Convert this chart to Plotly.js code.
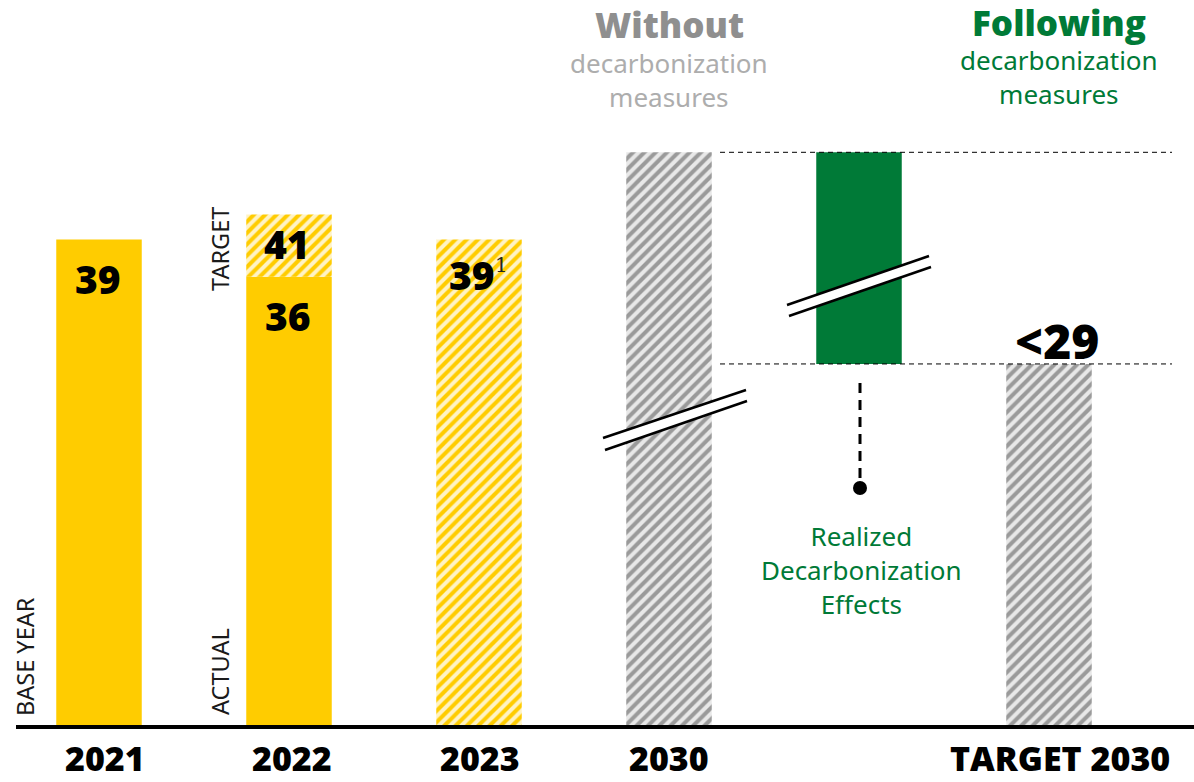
<!DOCTYPE html>
<html>
<head>
<meta charset="utf-8">
<script src="https://cdn.plot.ly/plotly-3.0.1.min.js"></script>
<style>html,body{margin:0;padding:0;background:#fff;}#chart{width:1194px;height:782px;}</style>
</head>
<body>
<div id="chart"></div>
<script>
// ---- data ----
var categories = ["2021", "2022", "2023", "2030", "", "TARGET 2030"];
var categoryX = [0, 1, 2, 3, 4, 5];
var actualX = [0, 1];
var actualValues = [39, 36];
var targetX = [1, 2];
var targetBase = [36, 0];
var targetValues = [41, 39];
var projectionX = [3, 5];
var projectionValues = [46, 29];
var effectX = [4];
var effectFrom = [29];
var effectTo = [46];
var valueLabels = ["39", "36", "41", "39", "<29"];

// ---- geometry helpers (pixel -> axis) ----
var W = 1194, H = 782, ML = 16, MB = 57, PLOT_H = H - MB;
var PX_PER_X = 190, X0_PX = 99;
var PX_PER_Y = 12.45;
function dx(px) { return (px - X0_PX) / PX_PER_X; }
function dy(py) { return (PLOT_H - py) / PX_PER_Y; }
function py2paper(py) { return (PLOT_H - py) / PLOT_H; }

var YEL = "#FFCC00", GREEN = "#007A37";
var BW = 0.45;

var traces = [
  { type: "bar", x: actualX, y: actualValues, width: BW,
    marker: { color: YEL, line: { width: 0 } }, hoverinfo: "skip" },
  { type: "bar", x: targetX, base: targetBase,
    y: targetValues.map(function (v, i) { return v - targetBase[i]; }), width: BW,
    marker: { color: "#FFF3C4", line: { width: 0 },
      pattern: { shape: "/", fgcolor: YEL, bgcolor: "#FFF3C4", size: 8, solidity: 0.5, fillmode: "replace" } },
    hoverinfo: "skip" },
  { type: "bar", x: projectionX, y: projectionValues, width: BW,
    marker: { color: "#E8E8E8", line: { width: 0 },
      pattern: { shape: "/", fgcolor: "#9A9A9A", bgcolor: "#E8E8E8", size: 8, solidity: 0.5, fillmode: "replace" } },
    hoverinfo: "skip" },
  { type: "bar", x: effectX, base: effectFrom,
    y: effectTo.map(function (v, i) { return v - effectFrom[i]; }), width: BW,
    marker: { color: GREEN, line: { width: 0 } }, hoverinfo: "skip" }
];

var BOLD = "Open Sans";
var REG = "Noto Sans";

function ann(text, xpx, ypx, size, color, weight, extra) {
  var a = { text: text, xref: "paper", yref: "paper",
    x: (xpx - ML) / (W - ML), y: py2paper(ypx), xanchor: "center", yanchor: "middle",
    showarrow: false, font: { family: weight ? BOLD : REG, size: size, color: color, weight: weight || 400 } };
  if (extra) for (var k in extra) a[k] = extra[k];
  return a;
}

var annotations = [
  ann("Without", 669, 24, 35, "#8F8F8F", 800),
  ann("decarbonization<br>measures", 669, 80, 26, "#ADADAD"),
  ann("Following", 1059, 22, 35, GREEN, 800),
  ann("decarbonization<br>measures", 1059, 77, 26, GREEN),
  ann(valueLabels[0], 98, 279, 39, "#000", 800),
  ann(valueLabels[1], 288, 315, 39, "#000", 800),
  ann(valueLabels[2], 287, 244, 39, "#000", 800),
  ann(valueLabels[3], 472, 274, 39, "#000", 800),
  ann("1", 501, 265, 20, "#222", 0, { font: { family: "DejaVu Serif", size: 20, color: "#222" } }),
  ann(valueLabels[4], 1057, 340, 48, "#000", 800),
  ann("Realized<br>Decarbonization<br>Effects", 861, 570, 26, GREEN),
  ann("BASE YEAR", 25, 657, 23.5, "#1a1a1a", 0, { textangle: -90 }),
  ann("ACTUAL", 220, 672, 23.5, "#1a1a1a", 0, { textangle: -90 }),
  ann("TARGET", 220, 249, 23.5, "#1a1a1a", 0, { textangle: -90 })
];

// category labels under the axis, placed on the x scale
var labelShift = [6, 3, 1, 0, 0, 11];
categories.forEach(function (c, i) {
  if (!c) return;
  annotations.push({ text: c, xref: "x", yref: "paper", x: categoryX[i], xshift: labelShift[i],
    y: py2paper(758), xanchor: "center", yanchor: "middle", showarrow: false,
    font: { family: BOLD, size: 34, color: "#000", weight: 800 } });
});

function line(x0, y0, x1, y1, w, dash) {
  return { type: "line", xref: "x", yref: "y", x0: dx(x0), y0: dy(y0), x1: dx(x1), y1: dy(y1),
    line: { color: "#000", width: w, dash: dash || "solid" }, layer: "above" };
}
function breakMark(a, b, c, d) {
  var path = "M " + dx(a[0]) + "," + dy(a[1]) + " L " + dx(b[0]) + "," + dy(b[1]) +
             " L " + dx(d[0]) + "," + dy(d[1]) + " L " + dx(c[0]) + "," + dy(c[1]) + " Z";
  return [
    { type: "path", xref: "x", yref: "y", path: path, fillcolor: "#fff", line: { width: 0 }, layer: "above" },
    line(a[0], a[1], b[0], b[1], 2.5),
    line(c[0], c[1], d[0], d[1], 2.5)
  ];
}

var shapes = [
  { type: "line", xref: "x", yref: "y", x0: dx(720), x1: dx(1172), y0: effectTo[0], y1: effectTo[0],
    line: { color: "#000", width: 1, dash: "5px,4px" }, layer: "above" },
  { type: "line", xref: "x", yref: "y", x0: dx(720), x1: dx(1172), y0: effectFrom[0], y1: effectFrom[0],
    line: { color: "#000", width: 1, dash: "5px,4px" }, layer: "above" },
  line(860, 383, 860, 478, 3, "10px,7px"),
  { type: "circle", xref: "x", yref: "y", x0: dx(853), x1: dx(867), y0: dy(481), y1: dy(495),
    fillcolor: "#000", line: { width: 0 }, layer: "above" }
].concat(breakMark([603, 438], [746, 390], [605, 450], [747, 401]))
 .concat(breakMark([787, 305], [929, 256], [789, 316], [931, 267]));

var layout = {
  width: W, height: H,
  margin: { l: ML, r: 0, t: 0, b: MB, pad: 0 },
  paper_bgcolor: "#fff", plot_bgcolor: "#fff",
  barmode: "overlay",
  showlegend: false,
  xaxis: {
    range: [dx(ML), dx(W)],
    showticklabels: false,
    ticks: "", showgrid: false, zeroline: false,
    showline: true, linecolor: "#000", linewidth: 4,
    fixedrange: true
  },
  yaxis: {
    range: [0, PLOT_H / PX_PER_Y],
    visible: false, showgrid: false, zeroline: false, fixedrange: true
  },
  annotations: annotations,
  shapes: shapes
};

Plotly.newPlot("chart", traces, layout, { staticPlot: true, displayModeBar: false });
</script>
</body>
</html>
